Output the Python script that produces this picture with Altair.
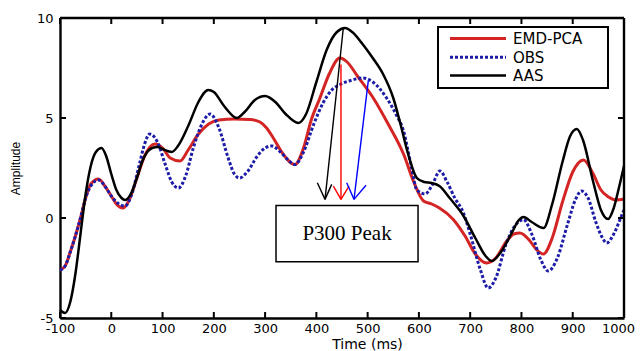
import altair as alt
import pandas as pd

# ---------------- data ----------------
aas_t = [-100, -90, -80, -70, -60, -50, -40, -30, -19, -10, 0, 10, 20, 27, 40, 50, 60, 70, 80, 90, 100, 118,
         130, 150, 170, 189, 200, 220, 245, 260, 280, 300, 320, 340, 365, 380, 400, 420, 440, 456, 470, 490,
         510, 530, 550, 563, 580, 596, 610, 625, 640, 660, 687, 710, 730, 742, 760, 780, 795, 804, 820, 843,
         860, 880, 895, 908, 920, 940, 955, 969, 980, 990, 1000]
aas_y = [-4.6, -4.75, -4.2, -2.8, -0.8, 1.2, 2.6, 3.3, 3.5, 3.1, 2.2, 1.4, 1.0, 0.9, 1.3, 2.0, 2.8, 3.3, 3.5,
         3.55, 3.45, 3.3, 3.6, 4.6, 5.8, 6.4, 6.3, 5.6, 5.0, 5.3, 5.9, 6.1, 5.8, 5.2, 4.75, 5.2, 6.8, 8.4, 9.3,
         9.5, 9.3, 8.7, 8.0, 7.2, 6.0, 4.8, 3.1, 2.0, 1.8, 1.75, 1.6, 1.0, 0.1, -1.0, -1.9, -2.15, -1.7, -0.8,
         -0.1, 0.05, -0.2, -0.5, 0.7, 2.8, 4.1, 4.45, 3.9, 1.8, 0.4, -0.05, 0.5, 1.5, 2.6]

emd_t = [-100, -90, -80, -70, -60, -50, -40, -25, -10, 0, 10, 23, 35, 50, 65, 85, 100, 115, 134, 150, 170,
         190, 210, 240, 270, 290, 303, 316, 335, 358, 375, 390, 407, 425, 446, 460, 480, 511, 540, 570, 590,
         609, 625, 640, 667, 690, 710, 732, 750, 770, 785, 797, 815, 830, 843, 860, 880, 900, 921, 940, 955,
         970, 985, 1000]
emd_y = [-2.6, -2.4, -1.7, -0.9, 0.0, 1.0, 1.7, 1.95, 1.5, 1.1, 0.7, 0.5, 0.9, 2.0, 3.1, 3.7, 3.5, 3.0, 2.85,
         3.4, 4.2, 4.7, 4.9, 4.95, 4.93, 4.8, 4.5, 4.0, 3.2, 2.67, 3.5, 4.9, 6.0, 7.2, 8.0, 7.8, 7.1, 6.0, 4.7,
         3.2, 1.8, 0.85, 0.7, 0.5, -0.07, -0.9, -1.8, -2.25, -2.0, -1.2, -0.8, -0.75, -1.1, -1.6, -1.8, -1.0,
         0.8, 2.3, 2.9, 2.2, 1.4, 1.05, 0.9, 0.95]

obs_t = [-100, -90, -80, -70, -60, -50, -40, -25, -10, 0, 15, 27, 40, 55, 65, 75, 90, 105, 118, 131, 145, 160,
         175, 193, 210, 228, 240, 250, 265, 285, 300, 313, 330, 345, 358, 375, 395, 413, 430, 446, 470, 491,
         510, 537, 555, 570, 585, 596, 612, 625, 641, 655, 670, 686, 700, 720, 735, 750, 770, 790, 804, 820,
         838, 852, 870, 890, 905, 917, 930, 945, 958, 966, 980, 995, 1000]
obs_y = [-2.6, -2.4, -1.7, -0.9, 0.0, 1.0, 1.6, 1.9, 1.5, 1.1, 0.7, 0.6, 1.2, 2.7, 3.7, 4.2, 3.8, 2.7, 1.8,
         1.5, 2.1, 3.5, 4.6, 5.2, 4.5, 3.0, 2.2, 2.0, 2.3, 3.1, 3.5, 3.6, 3.3, 2.9, 2.67, 3.3, 4.7, 5.75, 6.4,
         6.67, 6.9, 7.0, 6.8, 6.0, 5.2, 4.35, 2.6, 1.4, 1.2, 1.6, 2.35, 1.8, 1.0, 0.3, -0.8, -2.6, -3.5, -3.0,
         -1.3, -0.3, -0.08, -0.8, -2.1, -2.65, -2.0, -0.3, 0.9, 1.35, 1.0, -0.2, -1.0, -1.25, -0.8, 0.1, 0.4]

series_names = ["EMD-PCA", "OBS", "AAS"]
series_colors = ["#d42424", "#1c1ca8", "#000000"]

x_ticks = [-100, 0, 100, 200, 300, 400, 500, 600, 700, 800, 900, 1000]
y_ticks = [-5, 0, 5, 10]

# annotation arrows (shaft start -> tip, plus two head wings), in data units
arrow_names = ["AAS", "EMD-PCA", "OBS"]
arrow_colors = ["#000000", "#ff0000", "#0000ff"]
arrow_t0 = [452.6, 448.0, 501.3]
arrow_y0 = [9.51, 7.67, 6.87]
arrow_t1 = [416.9, 448.0, 473.4]
arrow_y1 = [0.93, 0.93, 0.93]
wing_l_t = [401.9, 433.2, 459.2]
wing_l_y = [1.76, 1.59, 1.76]
wing_r_t = [429.9, 463.7, 496.8]
wing_r_y = [1.68, 1.59, 1.64]

box_t = [321.3, 598.3]
box_y = [0.63, -2.19]
box_label = "P300 Peak"

# ---------------- build tables ----------------
rows = []
for name, ts, ys_ in [("EMD-PCA", emd_t, emd_y), ("OBS", obs_t, obs_y), ("AAS", aas_t, aas_y)]:
    for t, y in zip(ts, ys_):
        rows.append({"series": name, "t": t, "amp": y})
df = pd.DataFrame(rows)

W, H = 564, 300
X0, X1, Y0, Y1 = -100, 1000, -5, 10
xs = alt.Scale(domain=[X0, X1], nice=False, zero=False)
ys = alt.Scale(domain=[Y0, Y1], nice=False, zero=False)
TL = 5  # inward tick length, px

base = alt.Chart(df)
layers = []
styles = {"EMD-PCA": dict(strokeWidth=3), "OBS": dict(strokeWidth=3, strokeDash=[3, 2]), "AAS": dict(strokeWidth=2.5)}
for name, col in zip(series_names, series_colors):
    layers.append(
        base.transform_filter(alt.datum.series == name)
        .mark_line(interpolate="monotone", color=col, **styles[name])
        .encode(
            x=alt.X("t:Q", scale=xs, title="Time (ms)",
                    axis=alt.Axis(values=x_ticks, ticks=False, domain=True, domainColor="black", domainWidth=2.4,
                                  grid=False,
                                  labelExpr="toString(datum.value)",
                                  labelOffset={"condition": {"test": "datum.value == 1000", "value": -6}, "value": 0},
                                  labelFont="DejaVu Sans", labelFontSize=13, labelColor="black",
                                  labelPadding=4, labelFlush=False, labelOverlap=False,
                                  titleFont="DejaVu Sans", titleFontSize=14, titleFontWeight="normal",
                                  titleColor="black", titleX=307, titleY=19, titleBaseline="top")),
            y=alt.Y("amp:Q", scale=ys, title="Amplitude",
                    axis=alt.Axis(values=y_ticks, ticks=False, domain=True, domainColor="black", domainWidth=2.4,
                                  grid=False,
                                  labelExpr="toString(datum.value)",
                                  labelFont="DejaVu Sans", labelFontSize=13, labelColor="black",
                                  labelPadding=7, labelFlush=False, labelOverlap=False,
                                  titleFont="Liberation Sans", titleFontSize=12, titleFontWeight="normal",
                                  titleColor="black", titleX=-38, titleY=150, titleAngle=-90,
                                  titleBaseline="bottom", titleAlign="center")),
        )
    )

# annotation box + text
box_df = pd.DataFrame({"t0": [box_t[0]], "t1": [box_t[1]], "y0": [box_y[0]], "y1": [box_y[1]],
                       "tm": [(box_t[0] + box_t[1]) / 2], "ym": [(box_y[0] + box_y[1]) / 2], "label": [box_label]})
box = alt.Chart(box_df).mark_rect(fill="white", stroke="black", strokeWidth=1.5).encode(
    x=alt.X("t0:Q", scale=xs), x2="t1:Q", y=alt.Y("y0:Q", scale=ys), y2="y1:Q")
box_text = alt.Chart(box_df).mark_text(font="Liberation Serif", fontSize=21, color="black").encode(
    x=alt.X("tm:Q", scale=xs), y=alt.Y("ym:Q", scale=ys), text="label:N")

# arrows
seg_rows = []
for i, n in enumerate(arrow_names):
    seg_rows.append({"name": n, "a": arrow_t0[i], "b": arrow_y0[i], "c": arrow_t1[i], "d": arrow_y1[i]})
    seg_rows.append({"name": n, "a": wing_l_t[i], "b": wing_l_y[i], "c": arrow_t1[i], "d": arrow_y1[i]})
    seg_rows.append({"name": n, "a": wing_r_t[i], "b": wing_r_y[i], "c": arrow_t1[i], "d": arrow_y1[i]})
arrows = alt.Chart(pd.DataFrame(seg_rows)).mark_rule(strokeWidth=1.4).encode(
    x=alt.X("a:Q", scale=xs), y=alt.Y("b:Q", scale=ys), x2="c:Q", y2="d:Q",
    color=alt.Color("name:N", scale=alt.Scale(domain=arrow_names, range=arrow_colors), legend=None))

# inward ticks (matlab style) on all four sides: tick values mapped to view pixels, drawn as thin bars
def px(v):
    return (v - X0) / (X1 - X0) * W

def py(v):
    return (Y1 - v) / (Y1 - Y0) * H

one = pd.DataFrame({"k": [0]})
tick_layers = []
for v in x_ticks:
    tick_layers.append(alt.Chart(one).mark_rect(color="black").encode(
        x=alt.value(px(v) - 1), x2=alt.value(px(v) + 1), y=alt.value(H - TL - 1), y2=alt.value(H)))
    tick_layers.append(alt.Chart(one).mark_rect(color="black").encode(
        x=alt.value(px(v) - 1), x2=alt.value(px(v) + 1), y=alt.value(0), y2=alt.value(TL + 1)))
for v in y_ticks:
    tick_layers.append(alt.Chart(one).mark_rect(color="black").encode(
        y=alt.value(py(v) - 1), y2=alt.value(py(v) + 1), x=alt.value(0), x2=alt.value(TL + 1)))
    tick_layers.append(alt.Chart(one).mark_rect(color="black").encode(
        y=alt.value(py(v) - 1), y2=alt.value(py(v) + 1), x=alt.value(W - TL - 1), x2=alt.value(W)))

# top and right frame edges
edges = [
    alt.Chart(one).mark_rule(color="black", strokeWidth=2.4).encode(
        x=alt.value(0), x2=alt.value(W), y=alt.value(0)),
    alt.Chart(one).mark_rule(color="black", strokeWidth=2.4).encode(
        x=alt.value(W), y=alt.value(0), y2=alt.value(H)),
]

# manual legend (matlab style box)
leg_x0, leg_y0, leg_w, leg_h = 378, 9, 170, 61
legend_layers = [
    alt.Chart(one).mark_rect(fill="white", stroke="black", strokeWidth=2).encode(
        x=alt.value(leg_x0), x2=alt.value(leg_x0 + leg_w), y=alt.value(leg_y0), y2=alt.value(leg_y0 + leg_h))
]
row_y = [20.5, 39.2, 57.5]
for i, name in enumerate(series_names):
    st = dict(styles[name])
    legend_layers.append(
        alt.Chart(one).mark_rule(color=series_colors[i], **st).encode(
            x=alt.value(390), x2=alt.value(446), y=alt.value(row_y[i])))
    legend_layers.append(
        alt.Chart(pd.DataFrame({"label": [name]})).mark_text(
            align="left", baseline="middle", font="DejaVu Sans", fontSize=15, color="black").encode(
            x=alt.value(453), y=alt.value(row_y[i] + 0.5), text="label:N"))

chart = alt.layer(*layers, box, box_text, arrows, *tick_layers, *edges, *legend_layers).properties(
    width=W, height=H,
    background="white",
    padding={"left": 52, "top": 10, "right": 12, "bottom": 33},
    autosize=alt.AutoSizeParams(type="none"),
).configure_view(stroke=None)

chart.save("out.html", embed_options={"renderer": "svg", "actions": False})
